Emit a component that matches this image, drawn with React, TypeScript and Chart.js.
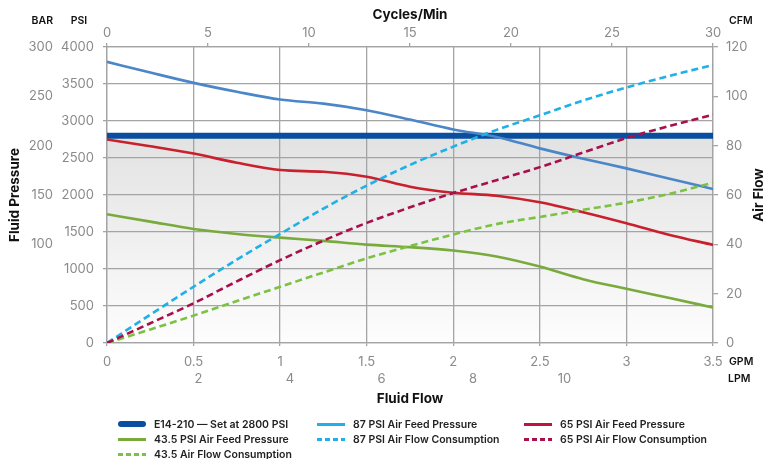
import React, { useEffect, useRef } from "react";
import { Chart, registerables } from "chart.js";
Chart.register(...registerables);

// ---- data (x = fluid flow GPM) ----
const gpm = [0, 0.25, 0.5, 0.75, 1, 1.25, 1.5, 1.75, 2, 2.25, 2.5, 2.75, 3, 3.25, 3.5];
// fluid pressure (PSI)
const feed87 = [3800, 3655, 3515, 3395, 3290, 3235, 3146, 3020, 2886, 2785, 2630, 2490, 2360, 2220, 2081];
const feed65 = [2750, 2660, 2560, 2435, 2337, 2314, 2247, 2112, 2031, 1990, 1901, 1767, 1618, 1460, 1326];
const feed43 = [1740, 1640, 1541, 1474, 1424, 1380, 1330, 1295, 1249, 1170, 1033, 863, 732, 607, 480];
// air flow (CFM)
const flow87 = [0, 11.5, 22.8, 33.8, 44.2, 54.5, 63.8, 72.2, 79.6, 86.4, 92.3, 98.3, 103.6, 108.3, 112.7];
const flow65 = [0, 8, 16.1, 25, 33.6, 41.5, 48.7, 55, 60.8, 66, 71.3, 77.2, 83.1, 88, 92.5];
const flow43 = [0, 5.5, 11.1, 17, 22.8, 28.6, 34.3, 39.3, 44, 48.2, 51.1, 54, 56.9, 60.5, 65];
const setPsi = 2800;

// axis ranges / ticks
const gpmMax = 3.5;
const lpmPerGpm = 3.78541;
const lpmTicks = [2, 4, 6, 8, 10, 12];
const psiMax = 4000;
const barMax = 300;
const cfmMax = 120;
const cyclesMax = 30;

const legendItems = [
  { label: "E14-210 — Set at 2800 PSI", color: "#0a4f9f", dash: false, thick: true, col: 0, row: 0 },
  { label: "43.5 PSI Air Feed Pressure", color: "#78aa3c", dash: false, col: 0, row: 1 },
  { label: "43.5 Air Flow Consumption", color: "#7cc242", dash: true, col: 0, row: 2 },
  { label: "87 PSI Air Feed Pressure", color: "#1fb0e8", dash: false, col: 1, row: 0 },
  { label: "87 PSI Air Flow Consumption", color: "#1fb0e8", dash: true, col: 1, row: 1 },
  { label: "65 PSI Air Feed Pressure", color: "#c0143c", dash: false, col: 2, row: 0 },
  { label: "65 PSI Air Flow Consumption", color: "#a8104c", dash: true, col: 2, row: 1 },
];

const FONT = "Inter, 'Noto Sans', sans-serif";
const gridColor = "#a4a4a4";
const tickColor = "#8a8a8a";

export default function App() {
  const ref = useRef<HTMLCanvasElement>(null);

  useEffect(() => {
    const pts = (ys: number[]) => gpm.map((x, i) => ({ x, y: ys[i] }));
    const tickFont = { family: FONT, size: 13 };
    const num = (v: any) => String(v);

    const titlesPlugin = {
      id: "axisTitles",
      afterDraw(chart: any) {
        const c = chart.ctx;
        const a = chart.chartArea;
        const s = chart.scales;
        c.save();
        c.fillStyle = "#111";
        c.textBaseline = "middle";
        c.font = `600 10.5px ${FONT}`;
        c.textAlign = "right";
        c.fillText("BAR", s.yBar.right, 21);
        c.textAlign = "center";
        c.fillText("PSI", (s.y.left + s.y.right) / 2 - 1, 21);
        c.textAlign = "left";
        c.fillText("CFM", s.yCfm.left + 16, 21);
        c.fillText("GPM", s.yCfm.left + 16, s.x.top + 19);
        c.fillText("LPM", s.yCfm.left + 15, s.xLpm.top + 9);
        c.font = `700 13.5px ${FONT}`;
        c.textAlign = "center";
        const cx = (a.left + a.right) / 2;
        c.fillText("Cycles/Min", cx, 15);
        c.fillText("Fluid Flow", cx, s.xLpm.bottom - 1);
        const cy = (a.top + a.bottom) / 2;
        c.save();
        c.translate(15, cy);
        c.rotate(-Math.PI / 2);
        c.fillText("Fluid Pressure", 0, 0);
        c.restore();
        c.save();
        c.translate(759, cy);
        c.rotate(-Math.PI / 2);
        c.fillText("Air Flow", 0, 0);
        c.restore();
        c.restore();
      },
    };

    const common = { pointRadius: 0, pointHoverRadius: 0, borderWidth: 2.6, cubicInterpolationMode: "monotone" as const, fill: false };

    const chart = new Chart(ref.current!, {
      type: "line",
      data: {
        datasets: [
          { ...common, label: "65 PSI Air Flow Consumption", data: pts(flow65), borderColor: "#a8104c", borderDash: [7, 4], yAxisID: "yCfm" },
          { ...common, label: "87 PSI Air Flow Consumption", data: pts(flow87), borderColor: "#1fb0e8", borderDash: [7, 4], yAxisID: "yCfm" },
          { ...common, label: "43.5 Air Flow Consumption", data: pts(flow43), borderColor: "#7cc242", borderDash: [7, 4], yAxisID: "yCfm" },
          { ...common, label: "87 PSI Air Feed Pressure", data: pts(feed87), borderColor: "#4a86c8", yAxisID: "y" },
          { ...common, label: "65 PSI Air Feed Pressure", data: pts(feed65), borderColor: "#c8202c", yAxisID: "y" },
          { ...common, label: "43.5 PSI Air Feed Pressure", data: pts(feed43), borderColor: "#78aa3c", yAxisID: "y" },
          {
            label: "E14-210 — Set at 2800 PSI",
            data: [{ x: 0, y: setPsi }, { x: gpmMax, y: setPsi }],
            borderColor: "#0a4f9f",
            borderWidth: 6,
            borderCapStyle: "round",
            pointRadius: 0,
            yAxisID: "y",
            fill: "origin",
            backgroundColor: (ctx: any) => {
              const ch = ctx.chart;
              const a = ch.chartArea;
              if (!a) return "rgba(0,0,0,0)";
              const top = ch.scales.y.getPixelForValue(setPsi);
              const g = ch.ctx.createLinearGradient(0, top, 0, a.bottom);
              g.addColorStop(0, "#e2e2e2");
              g.addColorStop(1, "#fdfdfd");
              return g;
            },
          },
        ],
      },
      options: {
        animation: false,
        responsive: false,
        events: [],
        layout: { padding: { left: 0, right: 12, top: 27, bottom: 59 } },
        plugins: {
          legend: { display: false },
          tooltip: { enabled: false },
          filler: { drawTime: "beforeDraw" },
        },
        scales: {
          x: {
            type: "linear", position: "bottom", min: 0, max: gpmMax, weight: 0,
            afterFit: (s: any) => { s.height = 27; },
            ticks: { stepSize: 0.5, color: tickColor, font: tickFont, padding: 8, maxRotation: 0, autoSkip: false, callback: num },
            grid: { color: gridColor, lineWidth: 1.3, tickLength: 3 },
            border: { color: gridColor, width: 1.3 },
          },
          xLpm: {
            type: "linear", position: "bottom", min: 0, max: gpmMax * lpmPerGpm, weight: 1,
            afterFit: (s: any) => { s.height = 30; },
            ticks: { stepSize: 2, color: tickColor, font: tickFont, padding: 1, maxRotation: 0, autoSkip: false,
              callback: (v: any) => (lpmTicks.includes(v) ? String(v) : "") },
            grid: { display: false, drawTicks: false },
            border: { display: false },
          },
          xTop: {
            type: "linear", position: "top", min: 0, max: cyclesMax,
            afterFit: (s: any) => { s.height = 20; },
            ticks: { stepSize: 5, color: tickColor, font: tickFont, padding: 2, maxRotation: 0, autoSkip: false, callback: num },
            grid: { drawOnChartArea: false, color: gridColor, lineWidth: 1.3, tickLength: 4 },
            border: { color: gridColor, width: 1.3 },
          },
          y: {
            type: "linear", position: "left", min: 0, max: psiMax, weight: 0,
            afterFit: (s: any) => { s.width = 54; },
            ticks: { stepSize: 500, color: tickColor, font: tickFont, padding: 9, callback: num },
            grid: { color: gridColor, lineWidth: 1.3, tickLength: 4 },
            border: { color: gridColor, width: 1.3 },
          },
          yBar: {
            type: "linear", position: "left", min: 0, max: barMax, weight: 1,
            afterFit: (s: any) => { s.width = 53; },
            ticks: { stepSize: 50, color: tickColor, font: tickFont, padding: 0, callback: (v: any) => (v >= 100 ? String(v) : "") },
            grid: { display: false, drawTicks: false },
            border: { display: false },
          },
          yCfm: {
            type: "linear", position: "right", min: 0, max: cfmMax,
            afterFit: (s: any) => { s.width = 40; },
            ticks: { stepSize: 20, color: tickColor, font: tickFont, padding: 8, callback: num },
            grid: { drawOnChartArea: false, color: gridColor, lineWidth: 1.3, tickLength: 5 },
            border: { color: gridColor, width: 1.3 },
          },
        },
      } as any,
      plugins: [titlesPlugin],
    });
    return () => chart.destroy();
  }, []);

  const colX = [118, 317, 524];
  const rowY = [424, 439, 454];

  return (
    <div style={{ position: "absolute", left: 0, top: 0, width: 765, height: 459, background: "#fff", overflow: "hidden" }}>
      <canvas ref={ref} width={765} height={459} style={{ width: 765, height: 459, display: "block" }} />
      {legendItems.map((it, i) => (
        <div key={i} style={{ position: "absolute", left: colX[it.col], top: rowY[it.row] - 8, height: 16, display: "flex", alignItems: "center", whiteSpace: "nowrap" }}>
          <div
            style={{
              width: 28,
              height: it.thick ? 6 : 3,
              borderRadius: it.thick ? 3 : 0,
              background: it.dash
                ? `repeating-linear-gradient(to right, ${it.color} 0 5px, transparent 5px 8px)`
                : it.color,
              marginRight: 8,
            }}
          />
          <span style={{ fontFamily: FONT, fontSize: 10.5, fontWeight: 600, color: "#222" }}>{it.label}</span>
        </div>
      ))}
    </div>
  );
}
